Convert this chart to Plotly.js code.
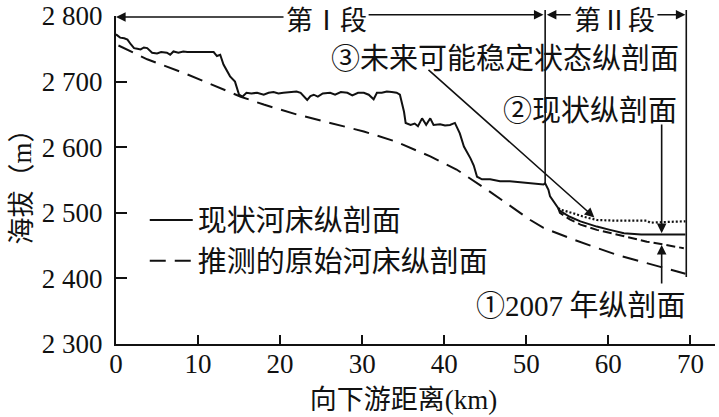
<!DOCTYPE html>
<html><head><meta charset="utf-8">
<script src="https://cdn.plot.ly/plotly-3.0.1.min.js"></script>
<style>html,body{margin:0;padding:0;background:#fff;}#chart{width:719px;height:417px;}</style>
</head><body><div id="chart"></div>
<script>
// 现状河床纵剖面 (solid)
const currentX = [0,0.5,1.0,1.4,1.8,2.2,2.6,3.0,3.4,3.8,4.4,5.0,5.5,6.2,6.6,7.0,7.6,8.2,8.7,9.5,10.5,11.9,12.3,12.7,13.1,13.9,14.5,15.0,15.4,15.9,16.5,17.2,18.0,18.6,19.2,19.8,20.4,21.2,22.0,22.5,23.0,23.3,23.7,24.1,24.6,25.2,26.1,26.7,27.4,28.2,28.8,29.5,30.2,30.8,31.4,31.8,32.4,33.0,33.6,34.2,34.6,35.1,35.3,35.9,36.4,36.8,37.3,37.8,38.3,38.7,39.5,40.1,40.7,41.3,41.9,42.4,43.2,43.6,44.0,44.6,45.6,46.8,48.0,49.6,51.0,52.1,52.3,52.7,52.9,53.5,53.9,54.1,55.3,56.6,58.6,60.2,61.9,64.0,69.4];
const currentY = [2772,2767,2766,2764,2757,2751,2750,2749,2752,2751,2744,2743,2745,2744,2741,2746,2744,2746,2745,2745,2745,2745,2739,2741,2726,2708,2700,2680,2677,2683,2682,2683,2680,2683,2684,2682,2683,2684,2685,2683,2675,2672,2678,2680,2677,2682,2683,2680,2684,2683,2679,2683,2683,2680,2673,2683,2683,2685,2684,2683,2680,2654,2637,2634,2636,2632,2644,2634,2644,2634,2635,2633,2634,2637,2621,2601,2583,2572,2555,2551,2551,2548,2548,2546,2545,2543,2545,2535,2525,2515,2507,2503,2494,2487,2479,2474,2469,2467,2467];
// 推测的原始河床纵剖面 (long dash)
const originalX = [0.3,3.8,8.7,15.2,18,22,26.1,30.2,34,38.3,41.5,45.6,50.5,52.1,55.8,58.6,61,63.9,66.7,69.4];
const originalY = [2755,2734,2711,2677,2665,2650,2637,2624,2609,2586,2566,2532,2489,2477,2459,2446,2436,2426,2416,2407];
// ③ 未来可能稳定状态纵剖面 (dotted)
const futureX = [53.9,54.1,55.8,57.0,58.6,61.0,64.7,65.1,67.0,69.4];
const futureY = [2507,2505,2499,2494,2489,2488,2488,2485,2486,2487];
// ① 2007年纵剖面 (short dash)
const y2007X = [53.9,54.1,55.3,56.6,58.6,61.9,64.7,67.0,69.2];
const y2007Y = [2507,2500,2490,2482,2474,2464,2456,2451,2446];
// axis ticks
const yTickVals = [2300,2400,2500,2600,2700,2800];
const yTickText = ['2 300','2 400','2 500','2 600','2 700','2 800'];
const xTickVals = [0,10,20,30,40,50,60,70];
// section boundaries (km) and the elevations (m) where the boundary lines end
const sectionX = [0, 52.3, 69.5];
const sectionBottom = [2545, 2402];

const CJK = '"Noto Sans CJK SC", "Noto Sans", sans-serif';
const SERIF = '"Liberation Serif", "DejaVu Serif", serif';
const Y0 = 2300, Y1 = 2800;
const toPaper = v => (v - Y0) / (Y1 - Y0);

const traces = [
  {x: currentX, y: currentY, mode:'lines', name:'现状河床纵剖面', line:{color:'#111', width:2}},
  {x: originalX, y: originalY, mode:'lines', name:'推测的原始河床纵剖面', line:{color:'#111', width:2, dash:'16px,9px'}},
  {x: futureX, y: futureY, mode:'lines', showlegend:false, line:{color:'#111', width:2.2, dash:'2px,2px'}},
  {x: y2007X, y: y2007Y, mode:'lines', showlegend:false, line:{color:'#111', width:2, dash:'9px,4px'}}
];

function arrow(x, y, ax, ay){
  return {x:x, y:y, ax:ax, ay:ay, xref:'x', yref:'y', axref:'x', ayref:'y', text:'', showarrow:true,
          arrowhead:2, arrowsize:1.2, arrowwidth:1.6, arrowcolor:'#111', standoff:0, startstandoff:0};
}
function topArrow(x, ax, yp){
  return {x:x, y:yp, ax:ax, ay:0, xref:'x', yref:'paper', axref:'x', ayref:'pixel', text:'', showarrow:true,
          arrowhead:2, arrowsize:1.2, arrowwidth:1.6, arrowcolor:'#111', standoff:0, startstandoff:0};
}
const fnt = {family:CJK, size:29, color:'#111'};
function label(x, y, yref, text, size){
  return {x:x, y:y, xref:'x', yref:yref, text:text, showarrow:false, xanchor:'center', yanchor:'middle',
          borderpad:0, font:{family:CJK, size:size || 29, color:'#111'}};
}

const annotations = [
  label(25.7, 0.9924, 'paper', '第Ⅰ段', 27),
  topArrow(sectionX[0], 20.6, 0.997),
  topArrow(sectionX[1]-0.2, 30.6, 1.004),
  label(60.8, 0.9926, 'paper', '第Ⅱ段', 27),
  topArrow(sectionX[1]+0.2, 55.6, 1.004),
  topArrow(sectionX[2]-0.1, 65.8, 1.004),
  label(47.4, 2739, 'y', '③未来可能稳定状态纵剖面'),
  arrow(58.3, 2493, 37.9, 2720),
  label(57.8, 2660, 'y', '②现状纵剖面'),
  arrow(66.5, 2469, 66.5, 2637),
  label(56.7, 2362, 'y', '①<span style="font-family:Liberation Serif">2007</span> 年纵剖面'),
  arrow(66.5, 2451, 66.5, 2390)
];

const shapes = [
  {type:'line', xref:'x', yref:'paper', x0:sectionX[1], x1:sectionX[1], y0:1.018, y1:toPaper(sectionBottom[0]), line:{color:'#111', width:1.6}},
  {type:'line', xref:'x', yref:'paper', x0:sectionX[2], x1:sectionX[2], y0:1.018, y1:toPaper(sectionBottom[1]), line:{color:'#111', width:1.6}}
];

const layout = {
  width:719, height:417,
  margin:{l:116, r:4, t:16, b:73, pad:0},
  paper_bgcolor:'#fff', plot_bgcolor:'#fff',
  showlegend:true,
  legend:{x:0.048, y:0.455, xanchor:'left', yanchor:'top', bgcolor:'rgba(0,0,0,0)',
          font:fnt, itemwidth:43, tracegroupgap:0},
  xaxis:{range:[0,73], tickvals:xTickVals, ticks:'inside', ticklen:9, tickwidth:2, tickcolor:'#111',
         showline:true, linecolor:'#111', linewidth:2, showgrid:false, zeroline:false,
         tickfont:{family:SERIF, size:27, color:'#111'}, ticklabelstandoff:-5,
         title:{text:'向下游距离<span style="font-family:Liberation Serif">(km)</span>&nbsp;&nbsp;&nbsp;&nbsp;', font:{family:CJK, size:27, color:'#111'}, standoff:4}},
  yaxis:{range:[Y0,Y1], tickvals:yTickVals, ticktext:yTickText, ticks:'inside', ticklen:11, tickwidth:2, tickcolor:'#111',
         showline:true, linecolor:'#111', linewidth:2, showgrid:false, zeroline:false,
         tickfont:{family:SERIF, size:27, color:'#111'}, ticklabelstandoff:6,
         title:{text:'海拔（<span style="font-family:Liberation Serif">m</span>）', font:{family:CJK, size:27, color:'#111'}, standoff:4}},
  annotations: annotations,
  shapes: shapes
};

Plotly.newPlot('chart', traces, layout, {displayModeBar:false, staticPlot:true});
</script>
</body></html>
